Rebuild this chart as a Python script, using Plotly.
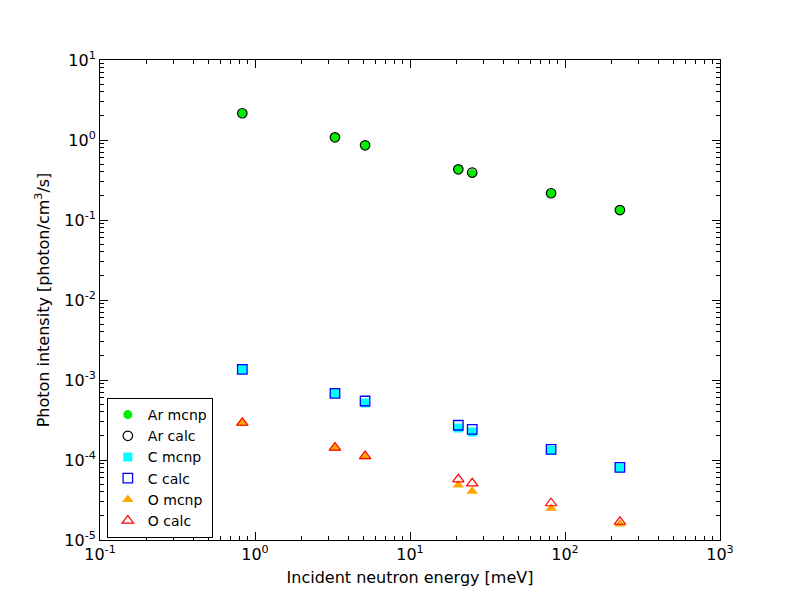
import plotly.graph_objects as go

energy = [0.828, 3.28, 5.13, 20.5, 25.2, 81.3, 226]

ar_mcnp = [2.16, 1.08, 0.859, 0.430, 0.380, 0.216, 0.131]
ar_calc = [2.16, 1.08, 0.859, 0.430, 0.392, 0.216, 0.133]
c_mcnp = [1.36e-3, 6.82e-4, 5.16e-4, 2.51e-4, 2.24e-4, 1.32e-4, 8.0e-5]
c_calc = [1.36e-3, 6.82e-4, 5.46e-4, 2.72e-4, 2.42e-4, 1.36e-4, 8.1e-5]
o_mcnp = [2.85e-4, 1.40e-4, 1.10e-4, 4.87e-5, 4.06e-5, 2.49e-5, 1.58e-5]
o_calc = [2.92e-4, 1.43e-4, 1.12e-4, 5.74e-5, 5.11e-5, 2.88e-5, 1.69e-5]

x_tickvals = [0.1, 1, 10, 100, 1000]
x_ticktext = ["10<sup>-1</sup>", "10<sup>0</sup>", "10<sup>1</sup>", "10<sup>2</sup>", "10<sup>3</sup>"]
y_tickvals = [1e-5, 1e-4, 1e-3, 1e-2, 1e-1, 1, 10]
y_ticktext = ["10<sup>-5</sup>", "10<sup>-4</sup>", "10<sup>-3</sup>", "10<sup>-2</sup>",
              "10<sup>-1</sup>", "10<sup>0</sup>", "10<sup>1</sup>"]

series = [
    ("Ar mcnp", ar_mcnp, dict(symbol="circle", size=9, color="#00f000", line=dict(width=0))),
    ("Ar calc", ar_calc, dict(symbol="circle-open", size=9.5, color="black", line=dict(width=1.2, color="black"))),
    ("C mcnp", c_mcnp, dict(symbol="square", size=9, color="cyan", line=dict(width=0))),
    ("C calc", c_calc, dict(symbol="square-open", size=9.5, color="blue", line=dict(width=1.3, color="blue"))),
    ("O mcnp", o_mcnp, dict(symbol="triangle-up", size=10, color="orange", line=dict(width=0))),
    ("O calc", o_calc, dict(symbol="triangle-up-open", size=10, color="red", line=dict(width=1.2, color="red"))),
]

fig = go.Figure()
for name, vals, marker in series:
    fig.add_trace(go.Scatter(x=energy, y=vals, mode="markers", name=name, marker=marker))

axis_common = dict(
    type="log", showgrid=False, zeroline=False, showline=True, linecolor="black", linewidth=1,
    mirror="ticks", ticks="inside", ticklen=8, tickwidth=1, tickcolor="black",
    tickfont=dict(size=16, color="black"),
    minor=dict(ticks="inside", ticklen=4, tickcolor="black", showgrid=False, dtick="D1"),
)

fig.update_xaxes(range=[-1, 3], tickvals=x_tickvals, ticktext=x_ticktext,
                 title=dict(text="Incident neutron energy [meV]", font=dict(size=16, color="black"), standoff=8),
                 **axis_common)
fig.update_yaxes(range=[-5, 1], tickvals=y_tickvals, ticktext=y_ticktext,
                 title=dict(text="Photon intensity [photon/cm<sup>3</sup>/s]", font=dict(size=16, color="black"), standoff=10),
                 **axis_common)

fig.update_layout(
    width=800, height=600,
    margin=dict(l=100, r=80, t=60, b=60),
    paper_bgcolor="white", plot_bgcolor="white",
    font=dict(family="DejaVu Sans", color="black"),
    showlegend=True,
    legend=dict(x=0.011, y=0.15, xanchor="left", yanchor="middle",
                bgcolor="white", bordercolor="black", borderwidth=1,
                font=dict(size=14, color="black")),
)

fig.write_html("out.html")
